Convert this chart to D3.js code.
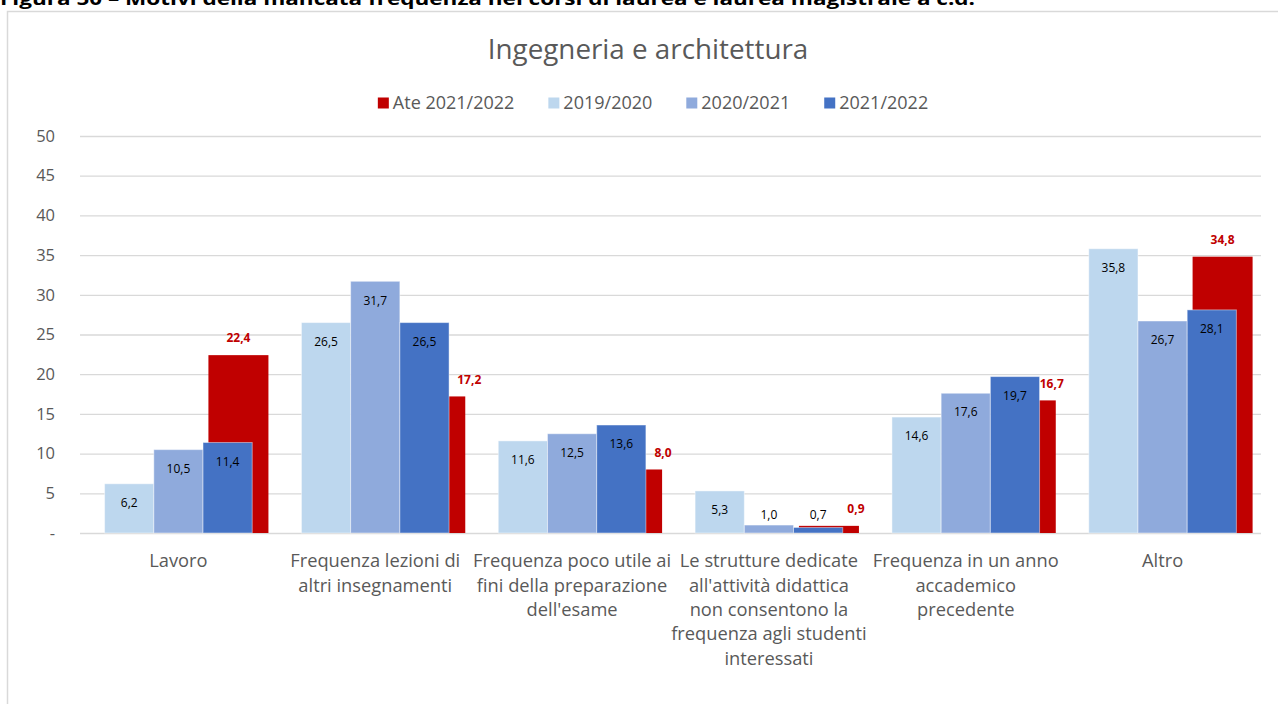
<!DOCTYPE html>
<html>
<head>
<meta charset="utf-8">
<script src="https://cdn.jsdelivr.net/npm/d3@7"></script>
<style>
  html, body { margin: 0; padding: 0; background: #fff; overflow: hidden; }
  svg { display: block; font-family: "Open Sans", "Noto Sans", sans-serif; }
</style>
</head>
<body>
<svg id="chart" width="1278" height="704"></svg>
<script>
// Motivi della mancata frequenza – Ingegneria e architettura (valori %)
const categories = [
  "Lavoro",
  "Frequenza lezioni di altri insegnamenti",
  "Frequenza poco utile ai fini della preparazione dell'esame",
  "Le strutture dedicate all'attività didattica non consentono la frequenza agli studenti interessati",
  "Frequenza in un anno accademico precedente",
  "Altro"
];
const categoryLines = [
  ["Lavoro"],
  ["Frequenza lezioni di", "altri insegnamenti"],
  ["Frequenza poco utile ai", "fini della preparazione", "dell'esame"],
  ["Le strutture dedicate", "all'attività didattica", "non consentono la", "frequenza agli studenti", "interessati"],
  ["Frequenza in un anno", "accademico", "precedente"],
  ["Altro"]
];
const seriesNames = ["2019/2020", "2020/2021", "2021/2022"];
const values2019 = [6.2, 26.5, 11.6, 5.3, 14.6, 35.8];
const values2020 = [10.5, 31.7, 12.5, 1.0, 17.6, 26.7];
const values2021 = [11.4, 26.5, 13.6, 0.7, 19.7, 28.1];
const ateName = "Ate 2021/2022";
const ateValues = [22.4, 17.2, 8.0, 0.9, 16.7, 34.8];
const yTicks = [0, 5, 10, 15, 20, 25, 30, 35, 40, 45, 50];

const chartTitle = "Ingegneria e architettura";
const figureCaption = "Figura 50 – Motivi della mancata frequenza nei corsi di laurea e laurea magistrale a c.d.";

// Ate labels are nudged to the right where the bar is hidden behind the 2021/2022 bar
const ateLabelShift = [0, 34, 31, 27, 26, 0];

const seriesColors = ["#BDD7EE", "#8FAADC", "#4472C4"];
const ateColor = "#C00000";
const textGray = "#595959";
const gridColor = "#D9D9D9";

const itLocale = d3.formatLocale({ decimal: ",", thousands: ".", grouping: [3], currency: ["€", ""] });
const fmt = itLocale.format(".1f");

const svg = d3.select("#chart");

// Figure caption (partly above the page edge) and chart frame
svg.append("text")
  .attr("x", 0).attr("y", 5)
  .attr("font-weight", 700).attr("font-size", 18).attr("fill", "#000")
  .attr("textLength", 975).attr("lengthAdjust", "spacingAndGlyphs")
  .text(figureCaption);

svg.append("rect")
  .attr("x", 7.5).attr("y", 11.5).attr("width", 1300).attr("height", 720)
  .attr("fill", "none").attr("stroke", gridColor).attr("stroke-width", 1.5);

// Scales
const plot = { left: 80, right: 1261, top: 136, bottom: 533 };
const x0 = d3.scaleBand().domain(categories).range([plot.left, plot.right]).padding(0);
const x1 = d3.scaleBand().domain(seriesNames).range([0, x0.bandwidth()]).paddingInner(0).paddingOuter(0.5);
const xAte = d3.scaleBand().domain(["a", "b", ateName]).range([0, x0.bandwidth()]).paddingInner(0).paddingOuter(0.14);
const y = d3.scaleLinear().domain([0, 50]).range([plot.bottom, plot.top]);

// Gridlines and y axis
const yAxis = d3.axisLeft(y).tickValues(yTicks)
  .tickSize(-(plot.right - plot.left))
  .tickPadding(25)
  .tickFormat(d => d === 0 ? "-" : d3.format("d")(d));
const gy = svg.append("g").attr("transform", `translate(${plot.left},0)`).call(yAxis);
gy.select(".domain").remove();
gy.selectAll(".tick line").attr("stroke", gridColor).attr("stroke-width", 1.3);
gy.selectAll(".tick text").attr("fill", textGray).attr("font-size", 16.5)
  .attr("font-family", "'Open Sans', sans-serif");

// Ate series (secondary axis, drawn behind)
const groups = categories.map((c, i) => ({ c, i }));
svg.append("g").selectAll("rect").data(groups).join("rect")
  .attr("x", d => x0(d.c) + xAte(ateName))
  .attr("width", xAte.bandwidth())
  .attr("y", d => y(ateValues[d.i]))
  .attr("height", d => y(0) - y(ateValues[d.i]))
  .attr("fill", ateColor);

// Annual series
const seriesValues = [values2019, values2020, values2021];
const bars = [];
seriesNames.forEach((s, k) => categories.forEach((c, i) => bars.push({ s, k, c, v: seriesValues[k][i] })));

svg.append("g").selectAll("rect").data(bars).join("rect")
  .attr("x", d => x0(d.c) + x1(d.s))
  .attr("width", x1.bandwidth())
  .attr("y", d => y(d.v))
  .attr("height", d => y(0) - y(d.v))
  .attr("fill", d => seriesColors[d.k])
  .attr("stroke", "#fff").attr("stroke-opacity", 0.45).attr("stroke-width", 1);

// Value labels
svg.append("g").selectAll("text").data(bars).join("text")
  .attr("x", d => x0(d.c) + x1(d.s) + x1.bandwidth() / 2)
  .attr("y", d => Math.min(y(d.v) + 19, y(0) - 18))
  .attr("dy", "0.35em")
  .attr("text-anchor", "middle").attr("font-size", 12).attr("fill", "#000")
  .text(d => fmt(d.v));

svg.append("g").selectAll("text").data(groups).join("text")
  .attr("x", d => x0(d.c) + xAte(ateName) + xAte.bandwidth() / 2 + ateLabelShift[d.i])
  .attr("y", d => y(ateValues[d.i]) - 17)
  .attr("dy", "0.35em")
  .attr("text-anchor", "middle").attr("font-size", 12).attr("font-weight", 700).attr("fill", ateColor)
  .text(d => fmt(ateValues[d.i]));

// Category labels
const catG = svg.append("g").selectAll("text").data(groups).join("text")
  .attr("text-anchor", "middle").attr("font-size", 18.3).attr("fill", textGray);
catG.each(function (d) {
  const t = d3.select(this);
  categoryLines[d.i].forEach((line, j) => {
    t.append("tspan")
      .attr("x", x0(d.c) + x0.bandwidth() / 2)
      .attr("y", 561 + j * 24.3)
      .attr("dy", "0.35em")
      .text(line);
  });
});

// Title
svg.append("text")
  .attr("x", 648).attr("y", 49).attr("dy", "0.35em")
  .attr("text-anchor", "middle").attr("font-size", 27.8).attr("fill", textGray)
  .text(chartTitle);

// Legend
const legendItems = [{ name: ateName, color: ateColor }]
  .concat(seriesNames.map((s, k) => ({ name: s, color: seriesColors[k] })));
const legend = svg.append("g");
const lg = legend.selectAll("g").data(legendItems).join("g");
lg.append("rect").attr("width", 11).attr("height", 11).attr("y", -5.5).attr("fill", d => d.color);
lg.append("text").attr("x", 15).attr("dy", "0.35em").attr("font-size", 18).attr("fill", textGray).text(d => d.name);
let cursor = 0;
lg.each(function () {
  const g = d3.select(this);
  g.attr("transform", `translate(${cursor},0)`);
  cursor += 15 + g.select("text").node().getComputedTextLength() + 34;
});
const legendWidth = cursor - 34;
legend.attr("transform", `translate(${653 - legendWidth / 2},103)`);
</script>
</body>
</html>
